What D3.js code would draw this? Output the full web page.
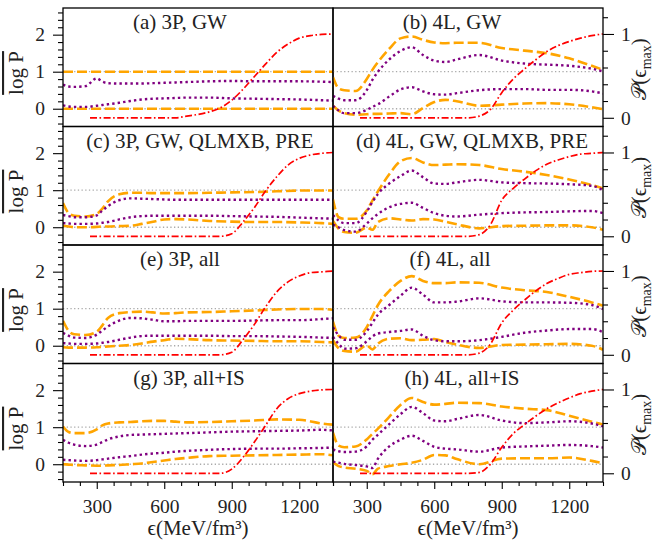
<!DOCTYPE html>
<html><head><meta charset="utf-8">
<script src="https://cdn.jsdelivr.net/npm/d3@7"></script>
<style>
body{margin:0;background:#fff}
svg text{font-family:"Liberation Serif","Times New Roman",serif;fill:#222}
</style></head><body>
<svg id="chart" width="656" height="541"></svg>
<script>
// ---------------- data ----------------
const epsGrid = [150,175,200,250,300,325,350,400,450,500,550,600,650,700,800,900,1000,1100,1200,1300,1350];
const redGrid = [270,600,650,700,750,800,850,900,950,1000,1050,1100,1150,1200,1250,1300,1350];
const panelTitles = ["(a) 3P, GW","(b) 4L, GW","(c) 3P, GW, QLMXB, PRE","(d) 4L, GW, QLMXB, PRE","(e) 3P, all","(f) 4L, all","(g) 3P, all+IS","(h) 4L, all+IS"];
const xTickLabels = [300,600,900,1200];
const yLeftTicks = [0,1,2];
const yRightTicks = [0,1];
const refLevels = [0,1];

// (a) 3P, GW
const orangeHi_a = [1,1,1,1,1,1,1,1,1,1,1,1,1,1,1,1,1,1,1,1,1];
const orangeLo_a = [0,0,0,0,0,0,0,0,0,0,0,0,0,0,0,0,0,0,0,0,0];
const purpleHi_a = [0.65,0.60,0.59,0.61,0.82,0.73,0.69,0.68,0.68,0.68,0.69,0.70,0.71,0.72,0.74,0.75,0.74,0.74,0.74,0.73,0.72];
const purpleLo_a = [0.09,0.06,0.05,0.05,0.08,0.10,0.12,0.16,0.21,0.25,0.27,0.28,0.29,0.30,0.30,0.28,0.27,0.26,0.25,0.23,0.22];
const prob_a = [0,0,0,0.02,0.04,0.07,0.12,0.21,0.34,0.49,0.64,0.78,0.88,0.95,0.98,0.995,1.0];
// (b) 4L, GW
const orangeHi_b = [0.85,0.55,0.50,0.48,0.80,1.05,1.26,1.62,1.90,1.95,1.86,1.79,1.77,1.78,1.78,1.64,1.57,1.50,1.36,1.16,1.05];
const orangeLo_b = [0.08,-0.05,-0.12,-0.16,-0.15,-0.14,-0.14,-0.13,-0.12,-0.15,0.02,0.18,0.24,0.20,0.08,0.11,0.14,0.15,0.12,0.04,-0.01];
const purpleHi_b = [0.35,0.27,0.23,0.23,0.50,0.78,1.00,1.33,1.56,1.66,1.45,1.30,1.26,1.33,1.45,1.30,1.22,1.19,1.16,1.08,1.01];
const purpleLo_b = [0.08,-0.05,-0.12,-0.12,-0.03,0.05,0.12,0.33,0.52,0.58,0.47,0.39,0.38,0.42,0.50,0.53,0.53,0.51,0.51,0.47,0.41];
const prob_b = [0,0,0,0,0,0.02,0.10,0.30,0.46,0.58,0.69,0.79,0.86,0.91,0.95,0.98,1.0];
// (c) 3P, GW, QLMXB, PRE
const orangeHi_c = [0.65,0.38,0.31,0.29,0.36,0.50,0.70,0.89,0.93,0.93,0.92,0.92,0.92,0.92,0.93,0.94,0.95,0.97,0.99,0.99,0.99];
const orangeLo_c = [0.04,0.02,0.00,0.00,0.01,0.02,0.02,0.03,0.04,0.09,0.15,0.21,0.22,0.21,0.17,0.15,0.14,0.14,0.13,0.11,0.09];
const purpleHi_c = [0.33,0.30,0.27,0.27,0.32,0.45,0.57,0.73,0.78,0.77,0.76,0.75,0.74,0.74,0.74,0.74,0.74,0.74,0.74,0.74,0.74];
const purpleLo_c = [0.11,0.10,0.09,0.09,0.10,0.12,0.14,0.21,0.27,0.30,0.31,0.31,0.31,0.31,0.31,0.30,0.29,0.28,0.26,0.24,0.23];
const prob_c = [0,0,0,0,0,0,0,0.03,0.17,0.34,0.54,0.71,0.85,0.93,0.97,0.99,1.0];
// (d) 4L, GW, QLMXB, PRE
const orangeHi_d = [0.75,0.27,0.23,0.23,0.45,0.72,0.97,1.43,1.78,1.87,1.75,1.68,1.69,1.70,1.68,1.57,1.50,1.41,1.29,1.14,1.05];
const orangeLo_d = [0.17,-0.04,-0.13,-0.15,-0.01,-0.07,0.14,0.24,0.21,0.18,0.22,0.21,0.15,0.08,-0.03,0.03,0.04,0.05,0.05,0.00,-0.07];
const purpleHi_d = [0.33,0.18,0.11,0.11,0.42,0.68,0.90,1.18,1.38,1.53,1.35,1.18,1.17,1.21,1.28,1.21,1.19,1.18,1.16,1.12,1.00];
const purpleLo_d = [0.07,0.00,-0.08,-0.12,0.10,0.24,0.36,0.54,0.63,0.66,0.52,0.38,0.31,0.29,0.34,0.38,0.40,0.41,0.43,0.44,0.38];
const prob_d = [0,0,0,0,0,0.02,0.14,0.43,0.57,0.68,0.78,0.86,0.91,0.95,0.98,0.99,1.0];
// (e) 3P, all
const orangeHi_e = [0.67,0.40,0.31,0.29,0.38,0.55,0.75,0.88,0.91,0.92,0.90,0.87,0.88,0.90,0.91,0.93,0.95,0.98,0.99,0.99,0.97];
const orangeLo_e = [-0.04,-0.05,-0.05,-0.05,-0.04,-0.03,-0.02,0.00,0.02,0.06,0.11,0.15,0.19,0.18,0.15,0.14,0.13,0.12,0.12,0.10,0.09];
const purpleHi_e = [0.35,0.27,0.22,0.21,0.30,0.41,0.52,0.68,0.75,0.74,0.70,0.66,0.66,0.67,0.67,0.67,0.68,0.69,0.69,0.72,0.74];
const purpleLo_e = [0.07,0.06,0.05,0.05,0.06,0.08,0.10,0.16,0.22,0.26,0.27,0.27,0.27,0.27,0.27,0.26,0.26,0.25,0.24,0.22,0.21];
const prob_e = [0,0,0,0,0,0,0,0.03,0.18,0.36,0.57,0.75,0.87,0.94,0.98,0.99,1.0];
// (f) 4L, all
const orangeHi_f = [0.65,0.27,0.21,0.22,0.50,0.80,1.10,1.48,1.75,1.88,1.75,1.69,1.69,1.71,1.70,1.57,1.50,1.45,1.32,1.17,1.08];
const orangeLo_f = [0.15,-0.07,-0.14,-0.16,0.01,-0.10,0.06,0.19,0.20,0.15,0.16,0.18,0.10,0.03,-0.06,0.02,0.03,0.04,0.05,0.00,-0.11];
const purpleHi_f = [0.50,0.28,0.16,0.16,0.39,0.62,0.84,1.10,1.35,1.57,1.38,1.17,1.17,1.19,1.28,1.20,1.17,1.17,1.16,1.10,0.99];
const purpleLo_f = [0.24,0.05,-0.08,-0.07,0.12,0.25,0.33,0.37,0.40,0.44,0.27,0.15,0.12,0.12,0.15,0.24,0.35,0.41,0.45,0.45,0.37];
const prob_f = [0,0,0,0,0,0.02,0.13,0.38,0.53,0.65,0.76,0.85,0.91,0.96,0.98,0.995,1.0];
// (g) 3P, all+IS
const orangeHi_g = [1.02,0.87,0.84,0.84,0.94,1.05,1.10,1.13,1.14,1.16,1.17,1.17,1.15,1.13,1.14,1.16,1.18,1.21,1.20,1.10,1.07];
const orangeLo_g = [0.00,-0.01,-0.02,-0.03,-0.04,-0.04,-0.03,-0.02,0.00,0.02,0.06,0.10,0.14,0.17,0.22,0.23,0.24,0.25,0.26,0.27,0.24];
const purpleHi_g = [0.66,0.58,0.53,0.49,0.53,0.60,0.67,0.75,0.79,0.80,0.81,0.82,0.83,0.84,0.86,0.88,0.89,0.90,0.91,0.93,0.91];
const purpleLo_g = [0.12,0.11,0.10,0.09,0.11,0.13,0.15,0.19,0.22,0.26,0.29,0.31,0.34,0.36,0.39,0.41,0.42,0.42,0.43,0.44,0.45];
const prob_g = [0,0,0,0,0,0,0,0.05,0.19,0.37,0.57,0.77,0.89,0.95,0.98,0.995,1.0];
// (h) 4L, all+IS
const orangeHi_h = [0.85,0.50,0.46,0.48,0.67,0.82,0.96,1.28,1.60,1.79,1.68,1.61,1.63,1.66,1.65,1.56,1.50,1.46,1.31,1.15,1.07];
const orangeLo_h = [0.05,-0.05,-0.09,-0.12,-0.18,-0.27,-0.12,-0.05,0.00,0.04,0.12,0.25,0.24,0.14,0.00,0.15,0.16,0.16,0.18,0.09,0.03];
const purpleHi_h = [0.40,0.35,0.33,0.34,0.48,0.66,0.80,1.08,1.35,1.55,1.38,1.18,1.16,1.22,1.33,1.18,1.11,1.13,1.16,1.10,1.02];
const purpleLo_h = [0.07,0.04,0.01,-0.02,-0.06,-0.10,0.15,0.48,0.66,0.77,0.63,0.47,0.42,0.40,0.34,0.45,0.48,0.50,0.52,0.49,0.45];
const prob_h = [0,0,0,0,0,0.01,0.11,0.31,0.47,0.58,0.68,0.77,0.84,0.90,0.95,0.98,1.0];

const panels = [
  {title:panelTitles[0], oHi:orangeHi_a, oLo:orangeLo_a, pHi:purpleHi_a, pLo:purpleLo_a, red:prob_a},
  {title:panelTitles[1], oHi:orangeHi_b, oLo:orangeLo_b, pHi:purpleHi_b, pLo:purpleLo_b, red:prob_b},
  {title:panelTitles[2], oHi:orangeHi_c, oLo:orangeLo_c, pHi:purpleHi_c, pLo:purpleLo_c, red:prob_c},
  {title:panelTitles[3], oHi:orangeHi_d, oLo:orangeLo_d, pHi:purpleHi_d, pLo:purpleLo_d, red:prob_d},
  {title:panelTitles[4], oHi:orangeHi_e, oLo:orangeLo_e, pHi:purpleHi_e, pLo:purpleLo_e, red:prob_e},
  {title:panelTitles[5], oHi:orangeHi_f, oLo:orangeLo_f, pHi:purpleHi_f, pLo:purpleLo_f, red:prob_f},
  {title:panelTitles[6], oHi:orangeHi_g, oLo:orangeLo_g, pHi:purpleHi_g, pLo:purpleLo_g, red:prob_g},
  {title:panelTitles[7], oHi:orangeHi_h, oLo:orangeLo_h, pHi:purpleHi_h, pLo:purpleLo_h, red:prob_h}
];

// ---------------- layout ----------------
const colX = [63, 333], PW = 270;
const top0 = 8, PH = 118.5;
const titleDx = [-18,-16, 2, 4, -18,-18, -9,-6];
const svg = d3.select("#chart");
const ORANGE = "#FFA500", PURPLE = "#800080", RED = "#FF0000", GRAY = "#aaaaaa";
const FONT = "'Liberation Serif','Times New Roman',serif";

panels.forEach((p, i) => {
  const col = i % 2, row = Math.floor(i / 2);
  const x0 = colX[col], y0 = top0 + row * PH;
  const x = d3.scaleLinear().domain([150, 1350]).range([x0, x0 + PW]);
  const yL = d3.scaleLinear().domain([-0.48, 2.72]).range([y0 + PH, y0]);
  const yR = d3.scaleLinear().domain([-0.104, 1.31]).range([y0 + PH, y0]);
  const g = svg.append("g");
  const cid = "clip" + i;
  svg.append("clipPath").attr("id", cid).append("rect")
    .attr("x", x0).attr("y", y0).attr("width", PW).attr("height", PH);
  const plot = g.append("g").attr("clip-path", `url(#${cid})`);

  // reference gray dotted lines
  refLevels.forEach(v => {
    plot.append("line").attr("x1", x(150)).attr("x2", x(1350))
      .attr("y1", yL(v)).attr("y2", yL(v))
      .attr("stroke", GRAY).attr("stroke-width", 1.3).attr("stroke-dasharray", "1.3,2.4");
  });

  const lineL = d3.line().x((d, k) => x(epsGrid[k])).y(d => yL(d)).curve(d3.curveMonotoneX);
  const lineR = d3.line().x((d, k) => x(redGrid[k])).y(d => yR(d)).curve(d3.curveMonotoneX);

  [p.oHi, p.oLo].forEach(arr => plot.append("path").attr("d", lineL(arr))
    .attr("fill", "none").attr("stroke", ORANGE).attr("stroke-width", 2.6)
    .attr("stroke-dasharray", "10,4"));
  [p.pHi, p.pLo].forEach(arr => plot.append("path").attr("d", lineL(arr))
    .attr("fill", "none").attr("stroke", PURPLE).attr("stroke-width", 2.4)
    .attr("stroke-dasharray", "2.4,3.1"));
  plot.append("path").attr("d", lineR(p.red))
    .attr("fill", "none").attr("stroke", RED).attr("stroke-width", 1.7)
    .attr("stroke-dasharray", "7,2.5,1.6,2.5");

  // frame
  g.append("rect").attr("x", x0).attr("y", y0).attr("width", PW).attr("height", PH)
    .attr("fill", "none").attr("stroke", "#000").attr("stroke-width", 1.3);

  // title
  g.append("text").attr("x", x0 + PW / 2 + titleDx[i]).attr("y", y0 + 21)
    .attr("text-anchor", "middle").attr("font-size", 21).text(p.title);

  const styleAxis = sel => {
    sel.select(".domain").remove();
    sel.attr("font-size", 19.5).attr("font-family", FONT);
    sel.selectAll("line").attr("stroke", "#000").attr("stroke-width", 1.1);
    sel.selectAll("text").attr("fill", "#222");
  };
  const notMajor = v => Math.abs(v - Math.round(v)) > 0.01;

  if (col === 0) {
    const minors = d3.range(-4, 27, 2).map(v => v / 10).filter(notMajor);
    g.append("g").attr("transform", `translate(${x0},0)`)
      .call(d3.axisLeft(yL).tickValues(yLeftTicks).tickSize(10).tickPadding(8).tickFormat(d3.format("d"))).call(styleAxis);
    g.append("g").attr("transform", `translate(${x0},0)`)
      .call(d3.axisLeft(yL).tickValues(minors).tickSize(5).tickFormat("")).call(styleAxis);
    const lab = g.append("text").attr("transform", `translate(23,${y0 + 65}) rotate(-90)`)
      .attr("text-anchor", "middle").attr("font-size", 21)
      .style("text-decoration", "overline").text("log P");
  } else {
    const minors = d3.range(0, 13, 2).map(v => v / 10).filter(notMajor);
    g.append("g").attr("transform", `translate(${x0 + PW},0)`)
      .call(d3.axisRight(yR).tickValues(yRightTicks).tickSize(11).tickPadding(7).tickFormat(d3.format("d"))).call(styleAxis);
    g.append("g").attr("transform", `translate(${x0 + PW},0)`)
      .call(d3.axisRight(yR).tickValues(minors).tickSize(5).tickFormat("")).call(styleAxis);
    const lab = g.append("text").attr("transform", `translate(646,${y0 + 61}) rotate(-90)`)
      .attr("text-anchor", "middle").attr("font-size", 21);
    lab.append("tspan").text("𝒫(ϵ");
    lab.append("tspan").attr("dy", 5).attr("font-size", 14).text("max");
    lab.append("tspan").attr("dy", -5).text(")");
  }

  if (row === 3) {
    const minorsX = d3.range(150, 1351, 75).filter(v => !xTickLabels.includes(v));
    g.append("g").attr("transform", `translate(0,${y0 + PH})`)
      .call(d3.axisBottom(x).tickValues(xTickLabels).tickSize(7).tickPadding(10).tickFormat(d3.format("d"))).call(styleAxis);
    g.append("g").attr("transform", `translate(0,${y0 + PH})`)
      .call(d3.axisBottom(x).tickValues(minorsX).tickSize(4).tickFormat("")).call(styleAxis);
    g.append("text").attr("x", x0 + PW / 2).attr("y", 535).attr("text-anchor", "middle")
      .attr("font-size", 21).text("ϵ(MeV/fm³)");
  }
});
</script>
</body></html>
